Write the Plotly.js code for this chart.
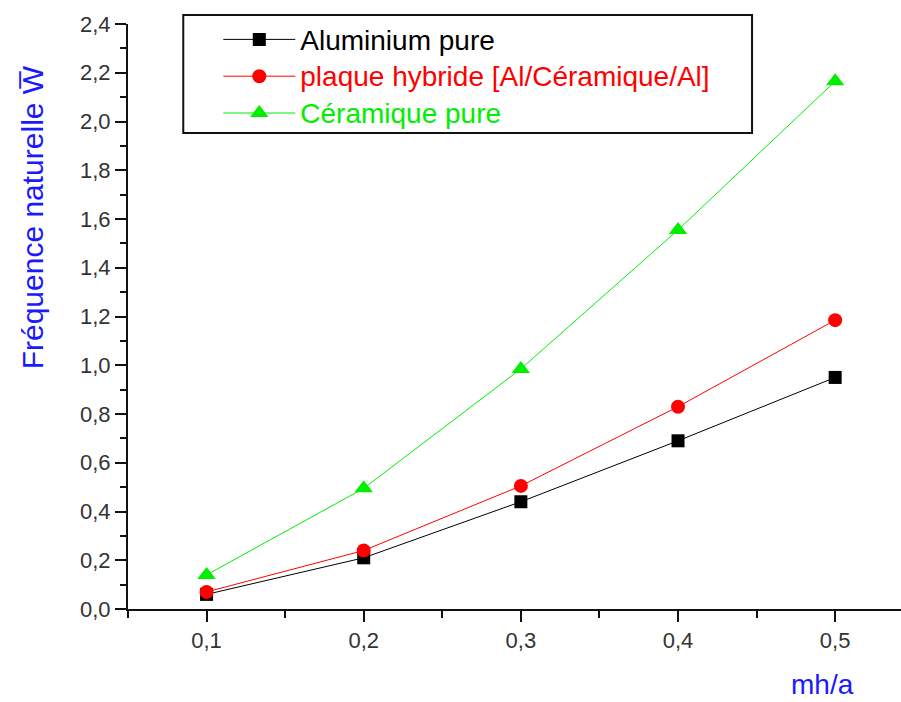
<!DOCTYPE html>
<html>
<head>
<meta charset="utf-8">
<script src="https://cdn.plot.ly/plotly-3.0.1.min.js"></script>
<style>html,body{margin:0;padding:0;background:#fff;}#chart{width:901px;height:702px;}</style>
</head>
<body>
<div id="chart"></div>
<script>
const mhA = [0.1, 0.2, 0.3, 0.4, 0.5];
const aluminium = [0.06, 0.21, 0.44, 0.69, 0.95];
const hybride = [0.07, 0.24, 0.505, 0.83, 1.185];
const ceramique = [0.14, 0.495, 0.985, 1.555, 2.165];
const seriesNames = ['Aluminium pure', 'plaque hybride [Al/Céramique/Al]', 'Céramique pure'];
const yTitle = 'Fréquence naturelle W\u0305';
const xTitle = 'mh/a';

const font = 'Arial, "Liberation Sans", sans-serif';
function legendName(txt, col) {
  return '<span style="color:' + col + ';font-size:28px">' + txt + '</span>';
}
const traces = [
  {x: mhA, y: aluminium, name: legendName(seriesNames[0], '#000000'), mode: 'lines+markers',
   line: {color: '#000000', width: 1}, marker: {symbol: 'square', size: 13, color: '#000000'}},
  {x: mhA, y: hybride, name: legendName(seriesNames[1], '#ff0000'), mode: 'lines+markers',
   line: {color: '#ff0000', width: 1}, marker: {symbol: 'circle', size: 14, color: '#ff0000'}},
  {x: mhA, y: ceramique, name: legendName(seriesNames[2], '#00ee00'), mode: 'lines+markers',
   line: {color: '#00ee00', width: 1}, marker: {symbol: 'triangle-up', size: 16, color: '#00ee00'}}
];

const axisCommon = {
  showgrid: false, zeroline: false, showline: true, linecolor: '#111', linewidth: 2,
  ticks: 'outside', ticklen: 11, tickwidth: 2, tickcolor: '#111',
  tickfont: {family: font, size: 22, color: '#333'}, tickformat: '.1f'
};

const layout = {
  width: 901, height: 702,
  margin: {l: 128, r: 0, t: 24, b: 93},
  paper_bgcolor: '#fff', plot_bgcolor: '#fff',
  separators: ', ',
  showlegend: true,
  legend: {x: 0.1168, y: 1.0137, xanchor: 'left', yanchor: 'top',
    borderwidth: 0, bgcolor: 'rgba(0,0,0,0)',
    font: {family: font, size: 26, color: '#000'}, itemwidth: 72, tracegroupgap: 0},
  xaxis: Object.assign({}, axisCommon, {range: [0.05, 0.5419], tick0: 0, dtick: 0.1,
    minor: {dtick: 0.05, tick0: 0, ticks: 'outside', ticklen: 7, tickwidth: 2, tickcolor: '#111'}}),
  yaxis: Object.assign({}, axisCommon, {range: [0, 2.4], tick0: 0, dtick: 0.2,
    minor: {dtick: 0.1, tick0: 0, ticks: 'outside', ticklen: 6, tickwidth: 2, tickcolor: '#111'}}),
  shapes: [
    {type: 'rect', xref: 'paper', yref: 'paper', x0: 0.0715, x1: 0.8073, y0: 0.8137, y1: 1.0154,
     line: {color: '#111', width: 2}, fillcolor: 'rgba(0,0,0,0)', layer: 'below'}
  ],
  annotations: [
    {text: yTitle, xref: 'paper', yref: 'paper', x: -0.1238, y: 0.67, textangle: -90,
     showarrow: false, font: {family: font, size: 30, color: '#1a1aff'}, xanchor: 'center', yanchor: 'middle'},
    {text: xTitle, xref: 'paper', yref: 'paper', x: 0.898, y: -0.159,
     showarrow: false, font: {family: font, size: 28, color: '#1a1aff'}, xanchor: 'center', yanchor: 'bottom'}
  ]
};

Plotly.newPlot('chart', traces, layout, {displayModeBar: false, staticPlot: true});
</script>
</body>
</html>
